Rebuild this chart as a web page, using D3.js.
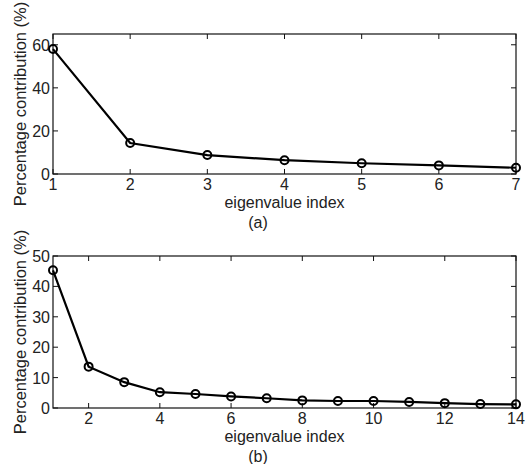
<!DOCTYPE html>
<html>
<head>
<meta charset="utf-8">
<script src="https://cdn.jsdelivr.net/npm/d3@7"></script>
<style>
  body { margin: 0; background: #fff; }
  text { font-family: "Liberation Sans", Arial, sans-serif; fill: #222; }
</style>
</head>
<body>
<div id="chart"></div>
<script>
// panel (a)
var idxA = [1, 2, 3, 4, 5, 6, 7]
var valA = [58, 14.4, 8.8, 6.4, 5.0, 4.0, 2.9]
var yTicksA = [0, 20, 40, 60]
var xTicksA = [1, 2, 3, 4, 5, 6, 7]

// panel (b)
var idxB = [1, 2, 3, 4, 5, 6, 7, 8, 9, 10, 11, 12, 13, 14]
var valB = [45.3, 13.6, 8.5, 5.2, 4.6, 3.8, 3.2, 2.5, 2.3, 2.3, 2.0, 1.6, 1.3, 1.2]
var yTicksB = [0, 10, 20, 30, 40, 50]
var xTicksB = [2, 4, 6, 8, 10, 12, 14]

var W = 528, H = 464
var svg = d3.select('#chart').append('svg')
  .attr('width', W).attr('height', H)

function panel(opts) {
  var left = 53, right = 516
  var top = opts.top, bottom = opts.bottom
  var g = svg.append('g')

  var x = d3.scaleLinear().domain(opts.xdom).range([left, right])
  var y = d3.scaleLinear().domain(opts.ydom).range([bottom, top])

  // box
  g.append('rect')
    .attr('x', left).attr('y', top)
    .attr('width', right - left).attr('height', bottom - top)
    .attr('fill', 'none').attr('stroke', '#111').attr('stroke-width', 1.2)

  // inward ticks on all four sides
  var tl = 5
  g.selectAll('.xt').data(opts.xticks).enter().append('path')
    .attr('d', function(d) {
      return 'M' + x(d) + ',' + bottom + 'v' + (-tl) + 'M' + x(d) + ',' + top + 'v' + tl
    })
    .attr('stroke', '#111').attr('stroke-width', 1)
  g.selectAll('.yt').data(opts.yticks).enter().append('path')
    .attr('d', function(d) {
      return 'M' + left + ',' + y(d) + 'h' + tl + 'M' + right + ',' + y(d) + 'h' + (-tl)
    })
    .attr('stroke', '#111').attr('stroke-width', 1)

  // tick labels
  g.selectAll('.xl').data(opts.xticks).enter().append('text')
    .attr('x', function(d) { return x(d) })
    .attr('y', bottom + 16)
    .attr('text-anchor', 'middle')
    .attr('font-size', 16)
    .text(function(d) { return d })
  g.selectAll('.yl').data(opts.yticks).enter().append('text')
    .attr('x', left - 3)
    .attr('y', function(d) { return y(d) + 6 })
    .attr('text-anchor', 'end')
    .attr('font-size', 16)
    .text(function(d) { return d })

  // axis titles
  g.append('text')
    .attr('x', (left + right) / 2).attr('y', bottom + 34)
    .attr('text-anchor', 'middle').attr('font-size', 16)
    .text('eigenvalue index')
  g.append('text')
    .attr('x', 258).attr('y', bottom + 54)
    .attr('text-anchor', 'middle').attr('font-size', 16)
    .text(opts.tag)
  g.append('text')
    .attr('transform', 'translate(' + 26 + ',' + ((top + bottom) / 2) + ') rotate(-90)')
    .attr('text-anchor', 'middle').attr('font-size', 16.5)
    .text('Percentage contribution (%)')

  // series
  var line = d3.line()
    .x(function(d, i) { return x(opts.idx[i]) })
    .y(function(d) { return y(d) })
  g.append('path')
    .datum(opts.vals)
    .attr('d', line)
    .attr('fill', 'none').attr('stroke', '#000').attr('stroke-width', 2.2)
  g.selectAll('.pt').data(opts.vals).enter().append('circle')
    .attr('cx', function(d, i) { return x(opts.idx[i]) })
    .attr('cy', function(d) { return y(d) })
    .attr('r', 4)
    .attr('fill', 'none').attr('stroke', '#000').attr('stroke-width', 2)
}

panel({ top: 34, bottom: 174, xdom: [1, 7], ydom: [0, 65],
  idx: idxA, vals: valA, xticks: xTicksA, yticks: yTicksA, tag: '(a)' })
panel({ top: 256, bottom: 408, xdom: [1, 14], ydom: [0, 50],
  idx: idxB, vals: valB, xticks: xTicksB, yticks: yTicksB, tag: '(b)' })
</script>
</body>
</html>
